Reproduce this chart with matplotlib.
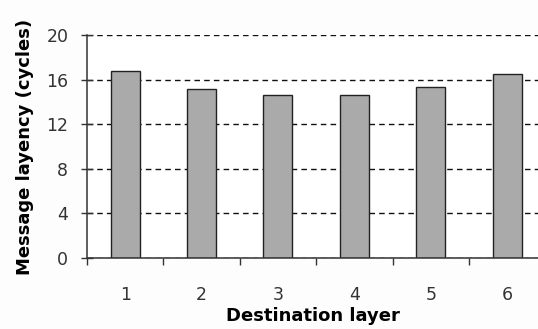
import matplotlib.pyplot as plt

# values
layers = ['1', '2', '3', '4', '5', '6']
latency = [16.8, 15.2, 14.6, 14.6, 15.3, 16.5]
y_ticks = [0, 4, 8, 12, 16, 20]

plt.rcParams['font.family'] = ['DejaVu Sans']

fig = plt.figure(figsize=(5.38, 3.29), dpi=100)
fig.patch.set_facecolor('#fdfdfd')
ax = fig.add_axes([87 / 538, (329 - 258) / 329, 1 - 87 / 538, (258 - 35) / 329])
ax.set_facecolor('white')

pos = list(range(1, len(layers) + 1))
ax.bar(pos, latency, width=0.38, color='#aaaaaa', edgecolor='#222222', linewidth=1.0, zorder=3)

ax.set_ylim(0, 20)
ax.set_xlim(0.5, 6.404)
ax.set_yticks(y_ticks)
ax.yaxis.grid(True, linestyle=(0, (4, 3)), color='#111111', linewidth=1.0, zorder=0)

# category ticks at the boundaries, labels at the centres
ax.set_xticks([p + 0.5 for p in pos[:-1]] + [0.5])
ax.set_xticklabels([])
ax.set_xticks(pos, minor=True)
ax.set_xticklabels(layers, minor=True)
ax.tick_params(axis='x', which='major', direction='out', length=5, width=1, color='#333333')
ax.tick_params(axis='x', which='minor', length=0, pad=20, labelsize=12.5, labelcolor='#333333')
ax.tick_params(axis='y', direction='inout', length=9, width=1, color='#333333', labelsize=12.5,
               labelcolor='#333333', pad=9)

for s in ['top', 'right']:
    ax.spines[s].set_visible(False)
for s in ['left', 'bottom']:
    ax.spines[s].set_color('#333333')
    ax.spines[s].set_linewidth(1.1)
    ax.spines[s].set_zorder(5)

ax.set_xlabel('Destination layer', fontsize=13, fontweight='bold', labelpad=2)
ax.set_ylabel('Message layency (cycles)', fontsize=13, fontweight='bold', labelpad=9)

fig.savefig('out.png', dpi=100, facecolor=fig.get_facecolor())
